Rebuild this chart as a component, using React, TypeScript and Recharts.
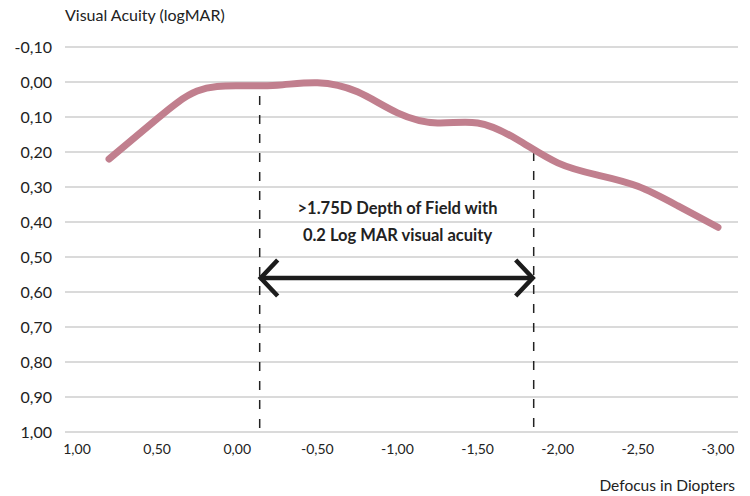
import { LineChart, Line, XAxis, YAxis, CartesianGrid, ReferenceLine, ReferenceDot } from "recharts";

// defocus (D) and visual acuity (logMAR)
const defocus = [0.8, 0.5, 0.25, 0.0, -0.25, -0.5, -0.75, -1.0, -1.25, -1.5, -1.75, -2.0, -2.25, -2.5, -2.75, -3.0];
const acuity = [0.22, 0.105, 0.026, 0.011, 0.009, 0.002, 0.028, 0.088, 0.117, 0.117, 0.165, 0.231, 0.266, 0.298, 0.354, 0.415];

const xTicks = [1.0, 0.5, 0.0, -0.5, -1.0, -1.5, -2.0, -2.5, -3.0];
const yTicks = [-0.1, 0.0, 0.1, 0.2, 0.3, 0.4, 0.5, 0.6, 0.7, 0.8, 0.9, 1.0];

// depth of field bounds and the arrow level
const dofLeft = { x: -0.14, yTop: 0.04 };
const dofRight = { x: -1.85, yTop: 0.2 };
const arrowY = 0.56;
const noteAt = { x: -1.0, y: 0.36 };
const noteLines = [">1.75D Depth of Field with", "0.2 Log MAR visual acuity"];

const data = defocus.map((d, i) => ({ defocus: d, va: acuity[i] }));

const FONT = "Lato, 'Open Sans', sans-serif";
const INK = "#222";

const fmt = (v: number) => v.toFixed(2).replace(".", ",");

const ArrowShape = (props: any) => {
  const { x1, y1, x2, y2 } = props;
  const h = 18;
  return (
    <g stroke="#1c1c1c" strokeWidth={4.5} fill="none" strokeLinejoin="miter">
      <line x1={x1} y1={y1} x2={x2} y2={y2} />
      <polyline points={`${x1 + h},${y1 - h} ${x1 + 1},${y1} ${x1 + h},${y1 + h}`} />
      <polyline points={`${x2 - h},${y2 - h} ${x2 - 1},${y2} ${x2 - h},${y2 + h}`} />
    </g>
  );
};

const NoteShape = (props: any) => {
  const { cx, cy } = props;
  return (
    <text x={cx} y={cy} textAnchor="middle" fontFamily={FONT} fontWeight={700} fontSize={16.5} fill={INK}>
      <tspan x={cx} dy="0.35em">{noteLines[0]}</tspan>
      <tspan x={cx} dy="27">{noteLines[1]}</tspan>
    </text>
  );
};

export default function App() {
  return (
    <div style={{ position: "absolute", left: 0, top: 0, width: 750, height: 496, background: "#fff", fontFamily: FONT }}>
      <div style={{ position: "absolute", left: 65, top: 5, fontSize: 16, color: INK }}>Visual Acuity (logMAR)</div>
      <div style={{ position: "absolute", right: 15, top: 476, fontSize: 15.5, color: INK }}>Defocus in Diopters</div>
      <LineChart width={750} height={496} data={data} margin={{ top: 47, right: 12, bottom: 34, left: 0 }}>
        <CartesianGrid vertical={false} stroke="#b5b5b5" strokeWidth={1.2} />
        <XAxis
          type="number"
          dataKey="defocus"
          domain={[-3.125, 1.075]}
          reversed
          allowDataOverflow
          ticks={xTicks}
          tickFormatter={fmt}
          axisLine={false}
          tickLine={false}
          height={30}
          tickMargin={6}
          tick={{ fill: INK, fontSize: 14, fontFamily: FONT }}
        />
        <YAxis
          type="number"
          domain={[-0.1, 1.0]}
          reversed
          allowDataOverflow
          ticks={yTicks}
          tickFormatter={fmt}
          axisLine={false}
          tickLine={false}
          width={65}
          tickMargin={7}
          tick={{ fill: INK, fontSize: 16, fontFamily: FONT }}
        />
        <ReferenceLine
          segment={[{ x: dofLeft.x, y: dofLeft.yTop }, { x: dofLeft.x, y: 1.0 }]}
          stroke={INK}
          strokeWidth={1.5}
          strokeDasharray="9 10"
        />
        <ReferenceLine
          segment={[{ x: dofRight.x, y: dofRight.yTop }, { x: dofRight.x, y: 1.0 }]}
          stroke={INK}
          strokeWidth={1.5}
          strokeDasharray="9 10"
        />
        <Line
          type="natural"
          dataKey="va"
          stroke="#c17f8e"
          strokeWidth={7}
          strokeLinecap="round"
          dot={false}
          activeDot={false}
          isAnimationActive={false}
        />
        <ReferenceLine
          segment={[{ x: dofLeft.x, y: arrowY }, { x: dofRight.x, y: arrowY }]}
          shape={ArrowShape}
        />
        <ReferenceDot x={noteAt.x} y={noteAt.y} r={0} shape={NoteShape} />
      </LineChart>
    </div>
  );
}
